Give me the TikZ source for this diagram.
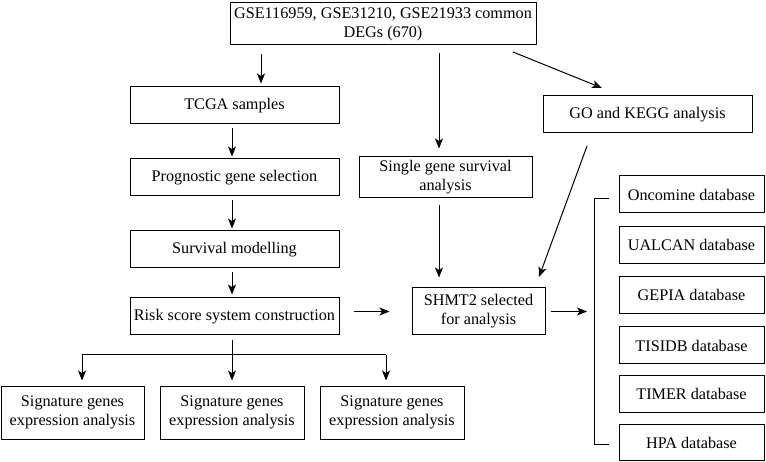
\documentclass[tikz,border=0pt]{standalone}
\usepackage{fontspec}
\setmainfont{Liberation Serif}
\usetikzlibrary{arrows.meta,calc}
\begin{document}
\begin{tikzpicture}[x=1pt,y=-1pt,
  box/.style={draw, line width=1pt, inner sep=1pt, align=center, font=\fontsize{16.2}{19}\selectfont},
  arr/.style={line width=1pt, -{Stealth[length=10pt,width=8pt,inset=2.5pt]}},
  ln/.style={line width=1pt}]
\useasboundingbox (0,0) rectangle (766,462);
% nodes
\node[box, minimum width=306, minimum height=42] (top) at (383,24) {GSE116959, GSE31210, GSE21933 common\\DEGs (670)};
\node[box, minimum width=209, minimum height=37] (tcga) at (234.5,105.5) {TCGA samples};
\node[box, minimum width=209, minimum height=37] (prog) at (234.5,177.5) {Prognostic gene selection};
\node[box, minimum width=209, minimum height=37] (surv) at (234.5,249.5) {Survival modelling};
\node[box, minimum width=209, minimum height=37] (risk) at (234.5,316.5) {Risk score system construction};
\node[box, minimum width=143, minimum height=53] (sig1) at (72.5,412.5) {Signature genes\\expression analysis};
\node[box, minimum width=144, minimum height=53] (sig2) at (232,412.5) {Signature genes\\expression analysis};
\node[box, minimum width=144, minimum height=53] (sig3) at (392,412.5) {Signature genes\\expression analysis};
\node[box, minimum width=173, minimum height=41] (single) at (445.5,177.5) {Single gene survival\\analysis};
\node[box, minimum width=209, minimum height=37] (go) at (647.5,114.5) {GO and KEGG analysis};
\node[box, minimum width=133, minimum height=47] (shmt) at (478.5,311.5) {SHMT2 selected\\for analysis};
\node[box, minimum width=145, minimum height=37] (db1) at (691.5,194.5) {Oncomine database};
\node[box, minimum width=145, minimum height=37] (db2) at (691.5,245) {UALCAN database};
\node[box, minimum width=145, minimum height=37] (db3) at (691.5,295) {GEPIA database};
\node[box, minimum width=145, minimum height=37] (db4) at (691.5,345.5) {TISIDB database};
\node[box, minimum width=145, minimum height=37] (db5) at (691.5,394) {TIMER database};
\node[box, minimum width=145, minimum height=36] (db6) at (691.5,442.5) {HPA database};
% helper coordinates
\coordinate (xa) at (261,0);
\coordinate (xb) at (439,0);
\coordinate (xc) at (232,0);
\coordinate (d1) at (513,52);
\coordinate (d2) at (602,88);
\coordinate (g1) at (587,146);
\coordinate (g2) at (539,277);
\coordinate (bt) at (594,199);
\coordinate (bb) at (594,444);
\coordinate (hy) at (0,355);
\coordinate (x1) at (82,0);
\coordinate (x3) at (386,0);
% connectors
\draw[arr, shorten <=9pt, shorten >=3pt] (top.south -| xa) -- (tcga.north -| xa);
\draw[arr, shorten <=4pt, shorten >=2pt] (tcga.south -| xc) -- (prog.north -| xc);
\draw[arr, shorten <=4pt, shorten >=2pt] (prog.south -| xc) -- (surv.north -| xc);
\draw[arr, shorten <=4pt, shorten >=3pt] (surv.south -| xc) -- (risk.north -| xc);
\draw[arr, shorten <=8pt, shorten >=8pt] (top.south -| xb) -- (single.north -| xb);
\draw[arr] (d1) -- (d2);
\draw[arr, shorten <=7pt, shorten >=10pt] (single.south -| xb) -- (shmt.north -| xb);
\draw[arr] (g1) -- (g2);
\draw[arr, shorten <=14pt, shorten >=22pt] (risk.east |- shmt.west) -- (shmt.west);
\draw[arr, shorten <=5pt, shorten >=7pt] (shmt.east) -- (shmt.east -| bt);
\draw[ln] (bt -| db1.west) ++(-10,0) -- (bt) -- (bb) -- ++(15,0);
\draw[arr, shorten <=5pt, shorten >=5pt] (risk.south -| xc) -- (sig2.north -| xc);
\draw[ln] (hy -| x1) -- (hy -| x3);
\draw[arr, shorten >=5pt] (hy -| x1) -- (sig1.north -| x1);
\draw[arr, shorten >=5pt] (hy -| x3) -- (sig3.north -| x3);
\end{tikzpicture}
\end{document}
